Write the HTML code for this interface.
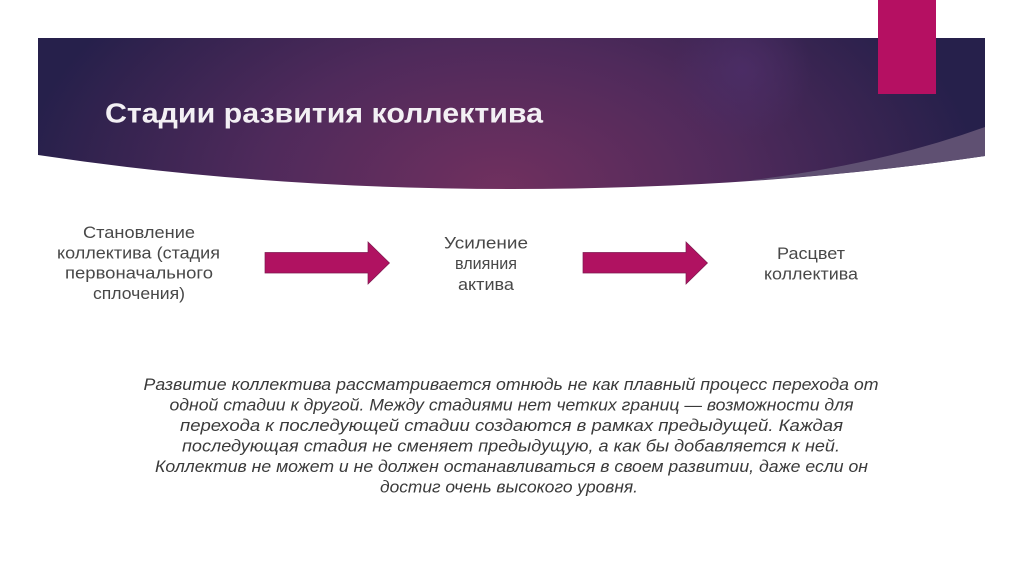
<!DOCTYPE html>
<html lang="ru"><head><meta charset="utf-8"><style>
html,body{margin:0;padding:0;background:#fff;width:1024px;height:574px;overflow:hidden}
svg{display:block}
text{font-family:"Liberation Sans",sans-serif}
.n{font-size:16.5px;fill:#484848}
.i{font-size:16.5px;fill:#3a3a3a;font-style:italic}
</style></head><body>
<svg width="1024" height="574" viewBox="0 0 1024 574" xmlns="http://www.w3.org/2000/svg">
<defs>
<radialGradient id="g" gradientUnits="userSpaceOnUse" cx="500" cy="189" r="480" gradientTransform="translate(500 189) scale(1 .6) translate(-500 -189)">
<stop offset="0" stop-color="#70305f"/><stop offset=".5" stop-color="#4f2a5b"/><stop offset=".85" stop-color="#33234f"/><stop offset="1" stop-color="#26204b"/>
</radialGradient>
<radialGradient id="h" gradientUnits="userSpaceOnUse" cx="742" cy="70" r="70">
<stop offset="0" stop-color="#4d2e68" stop-opacity=".8"/><stop offset="1" stop-color="#4d2e68" stop-opacity="0"/>
</radialGradient>
</defs>
<path d="M38 38H985V156Q760 189 512 189T38 155Z" fill="url(#g)"/>
<path d="M650 38H840V140H650Z" fill="url(#h)"/>
<path d="M745 181Q880 165 985 127V156Q870 173 745 181Z" fill="#5f5072"/>
<rect x="878" y="0" width="58" height="94" fill="#b51062"/>
<text x="105" y="122.500" font-size="28" font-weight="bold" fill="#f3f0f4" textLength="438" lengthAdjust="spacingAndGlyphs">Стадии развития коллектива</text>

<path d="M265 252.500H368V242L389.500 263L368 284V273H265Z" fill="#b01261" stroke="#7d1a50" stroke-width=".7"/>
<path d="M583 252.500H686V242L707.500 263L686 284V273H583Z" fill="#b01261" stroke="#7d1a50" stroke-width=".7"/>

<g text-anchor="middle">
<text class="n" x="139" y="238" textLength="112" lengthAdjust="spacingAndGlyphs">Становление</text>
<text class="n" x="138.500" y="258.500" textLength="163" lengthAdjust="spacingAndGlyphs">коллектива (стадия</text>
<text class="n" x="139" y="278.500" textLength="148" lengthAdjust="spacingAndGlyphs">первоначального</text>
<text class="n" x="139" y="299" textLength="92" lengthAdjust="spacingAndGlyphs">сплочения)</text>
<text class="n" x="486" y="248.500" textLength="84" lengthAdjust="spacingAndGlyphs">Усиление</text>
<text class="n" x="486" y="269" textLength="62" lengthAdjust="spacingAndGlyphs">влияния</text>
<text class="n" x="486" y="290" textLength="56" lengthAdjust="spacingAndGlyphs">актива</text>
<text class="n" x="811" y="259" textLength="68" lengthAdjust="spacingAndGlyphs">Расцвет</text>
<text class="n" x="811" y="279.500" textLength="94" lengthAdjust="spacingAndGlyphs">коллектива</text>
</g>

<g text-anchor="middle">
<text class="i" x="511" y="390" textLength="735" lengthAdjust="spacingAndGlyphs">Развитие коллектива рассматривается отнюдь не как плавный процесс перехода от</text>
<text class="i" x="511.500" y="410.500" textLength="684" lengthAdjust="spacingAndGlyphs">одной стадии к другой. Между стадиями нет четких границ — возможности для</text>
<text class="i" x="511.500" y="431" textLength="663" lengthAdjust="spacingAndGlyphs">перехода к последующей стадии создаются в рамках предыдущей. Каждая</text>
<text class="i" x="511" y="451.500" textLength="658" lengthAdjust="spacingAndGlyphs">последующая стадия не сменяет предыдущую, а как бы добавляется к ней.</text>
<text class="i" x="511.500" y="472" textLength="713" lengthAdjust="spacingAndGlyphs">Коллектив не может и не должен останавливаться в своем развитии, даже если он</text>
<text class="i" x="509" y="492.500" textLength="258" lengthAdjust="spacingAndGlyphs">достиг очень высокого уровня.</text>
</g>
</svg>
</body></html>
